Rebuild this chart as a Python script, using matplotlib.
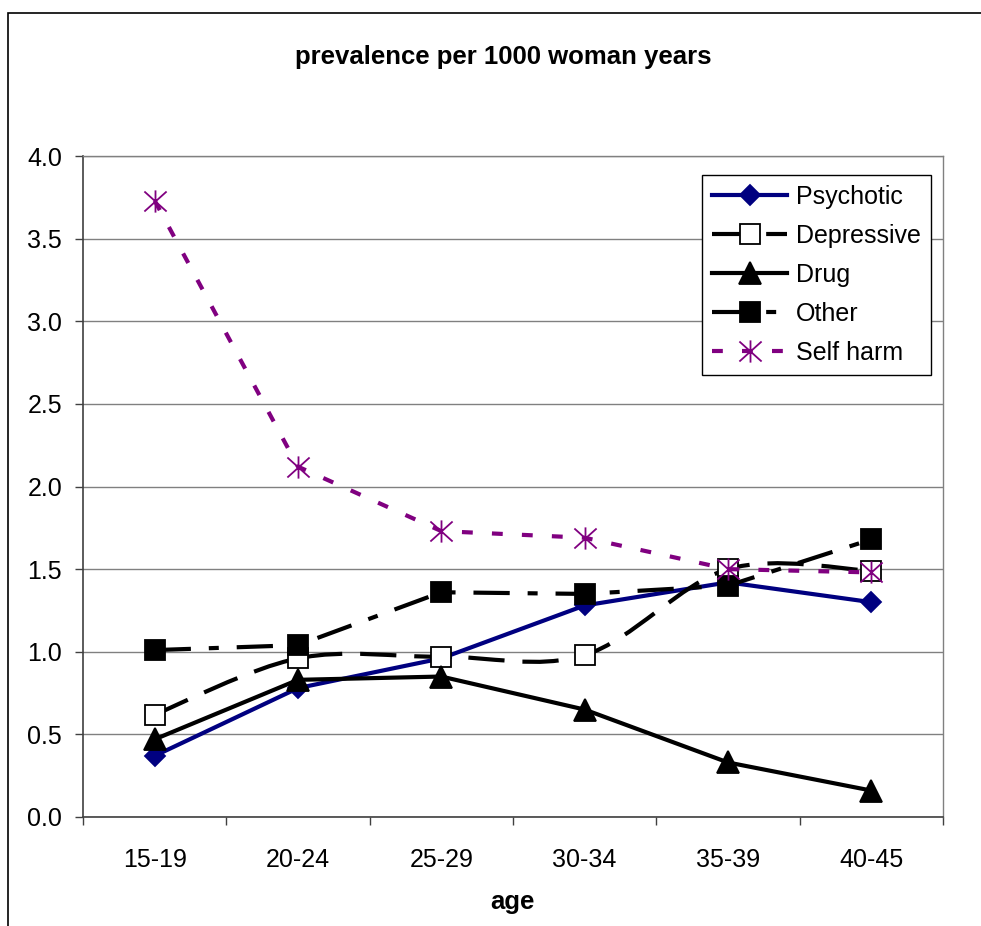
import numpy as np
import matplotlib
matplotlib.use("Agg")
import matplotlib.pyplot as plt
from matplotlib.path import Path
from matplotlib.patches import PathPatch, Rectangle
from matplotlib.lines import Line2D

plt.rcParams['font.family'] = ['Liberation Sans', 'DejaVu Sans']

# data
ages = ["15-19", "20-24", "25-29", "30-34", "35-39", "40-45"]
psychotic = [0.37, 0.78, 0.96, 1.28, 1.42, 1.30]
depressive = [0.62, 0.96, 0.97, 0.98, 1.50, 1.49]
drug = [0.47, 0.83, 0.85, 0.65, 0.33, 0.16]
other = [1.01, 1.04, 1.36, 1.35, 1.40, 1.68]
self_harm = [3.73, 2.12, 1.73, 1.69, 1.50, 1.48]

# excel style star marker (x plus a vertical bar)
star = Path([(0, -1), (0, 1), (-1, -0.9), (1, 0.9), (-1, 0.9), (1, -0.9)],
            [Path.MOVETO, Path.LINETO, Path.MOVETO, Path.LINETO, Path.MOVETO, Path.LINETO])

def line_path(xs, ys, smoothed):
    # straight segments, or bezier through the points like excel "smoothed line"
    p = np.column_stack([xs, ys]).astype(float)
    n = len(p)
    if not smoothed:
        return Path(p)
    verts = [p[0]]
    codes = [Path.MOVETO]
    for i in range(n - 1):
        p0 = p[max(i - 1, 0)]
        p1 = p[i]
        p2 = p[i + 1]
        p3 = p[min(i + 2, n - 1)]
        verts += [p1 + (p2 - p0) / 6, p2 - (p3 - p1) / 6, p2]
        codes += [Path.CURVE4] * 3
    return Path(verts, codes)

series = [
    ("Psychotic", psychotic, False, dict(color="#000080", ls="-", marker="D", ms=10.5, mfc="#000080", mec="#000080")),
    ("Depressive", depressive, True, dict(color="black", ls=(0, (8.7, 4.3)), marker="s", ms=14, mfc="white", mec="black")),
    ("Drug", drug, False, dict(color="black", ls="-", marker="^", ms=16, mfc="black", mec="black")),
    ("Other", other, False, dict(color="black", ls=(0, (8.7, 4.3, 2.4, 4.3)), marker="s", ms=14.5, mfc="black", mec="black")),
    ("Self harm", self_harm, False, dict(color="#800080", ls=(0, (2.6, 4.6)), marker=star, ms=16, mfc="none", mec="#800080")),
]

fig = plt.figure(figsize=(9.81, 9.26), dpi=100)
ax = fig.add_axes([83 / 981, 1 - 817 / 926, 860 / 981, 661 / 926])

x = np.arange(len(ages))
lw = 3
handles = []
for k, (name, vals, sm, st) in enumerate(series):
    z = 3 + k
    ax.add_patch(PathPatch(line_path(x, vals, sm), fill=False, edgecolor=st["color"], lw=lw,
                           linestyle=st["ls"], capstyle="butt", joinstyle="round", zorder=z))
    ax.plot(x, vals, linestyle="none", marker=st["marker"], ms=st["ms"], mfc=st["mfc"],
            mec=st["mec"], mew=1.3, zorder=z + 0.5)
    handles.append(Line2D([], [], color=st["color"], lw=lw, linestyle=st["ls"], marker=st["marker"],
                          ms=st["ms"], mfc=st["mfc"], mec=st["mec"], mew=1.3, dash_capstyle="butt"))

ax.set_xlim(-0.5, 5.5)
ax.set_ylim(0, 4)
ax.set_yticks(np.arange(0, 4.01, 0.5))
ax.set_yticklabels(["%.1f" % v for v in np.arange(0, 4.01, 0.5)])
ax.yaxis.grid(True, color="#808080", lw=1)
ax.set_axisbelow(True)

ax.set_xticks(np.arange(-0.5, 5.6, 1))
ax.set_xticklabels([])
ax.set_xticks(x, minor=True)
ax.set_xticklabels(ages, minor=True)
ax.tick_params(axis="x", which="major", direction="out", length=6, width=1, color="#404040")
ax.tick_params(axis="x", which="minor", length=0, pad=22, labelsize=18)
ax.tick_params(axis="y", direction="out", length=6, width=1, color="#404040", pad=9, labelsize=18)

for s in ["top", "right"]:
    ax.spines[s].set_color("#808080")
    ax.spines[s].set_linewidth(1)
for s in ["left", "bottom"]:
    ax.spines[s].set_color("#404040")
    ax.spines[s].set_linewidth(1.2)

leg = ax.legend(handles, [s[0] for s in series], loc="upper right", bbox_to_anchor=(931 / 981, 1 - 175 / 926),
                bbox_transform=fig.transFigure, fontsize=18, handlelength=3.0, handletextpad=0.35,
                labelspacing=0.6, borderpad=0.4, borderaxespad=0, fancybox=False, framealpha=1)
leg.get_frame().set_edgecolor("black")
leg.get_frame().set_linewidth(1)
leg.set_zorder(20)

fig.text(503 / 981, 1 - 57 / 926, "prevalence per 1000 woman years", ha="center", va="center",
         fontsize=18.5, fontweight="bold")
fig.text(512 / 981, 1 - 902 / 926, "age", ha="center", va="center", fontsize=18.5, fontweight="bold")

# chart area border
fig.add_artist(Rectangle((7.5 / 981, -0.2), 1.5, 0.2 + (926 - 12.5) / 926, transform=fig.transFigure,
                         fill=False, edgecolor="black", lw=1.2, clip_on=False))

fig.savefig("out.png", dpi=100)
